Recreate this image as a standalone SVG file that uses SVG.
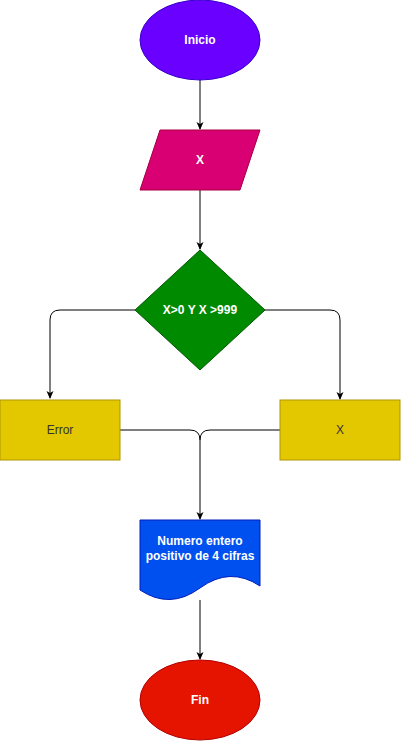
<svg xmlns="http://www.w3.org/2000/svg" width="402" height="742" viewBox="0 0 402 742">
<style>
.t{font-family:"Liberation Sans",Arial,sans-serif;font-size:12px;text-anchor:middle;dominant-baseline:central}
.w{fill:#ffffff;font-weight:bold}
.d{fill:#333333}
.c{fill:none;stroke:#000000;stroke-width:1}
</style>
<defs>
<marker id="arr" viewBox="0 0 8 8" refX="7" refY="4" markerWidth="8" markerHeight="8" markerUnits="userSpaceOnUse" orient="auto">
<path d="M0,0.5 L8,4 L0,7.5 L2,4 z" fill="#000000"/>
</marker>
</defs>
<rect width="402" height="742" fill="#ffffff"/>
<g id="connectors">
<path class="c" d="M200,80 V129" marker-end="url(#arr)"/>
<path class="c" d="M200,190 V249" marker-end="url(#arr)"/>
<path class="c" d="M135,310 H60 Q50,310 50,320 V398" marker-end="url(#arr)"/>
<path class="c" d="M265,310 H330 Q340,310 340,320 V399" marker-end="url(#arr)"/>
<path class="c" d="M120,430 H190 Q200,430 200,440 V519" marker-end="url(#arr)"/>
<path class="c" d="M280,430 H210 Q200,430 200,440"/>
<path class="c" d="M200,600 V659" marker-end="url(#arr)"/>
</g>
<g id="inicio">
<ellipse cx="200" cy="40" rx="60" ry="40" fill="#6a00ff" stroke="#3700cc"/>
<text class="t w" x="200" y="40">Inicio</text>
</g>
<g id="entrada">
<polygon points="160,130 260,130 240,190 140,190" fill="#d80073" stroke="#a50040"/>
<text class="t w" x="200" y="160">X</text>
</g>
<g id="decision">
<polygon points="200,250 265,310 200,370 135,310" fill="#008a00" stroke="#005700"/>
<text class="t w" x="200" y="310">X&gt;0 Y X &gt;999</text>
</g>
<g id="error">
<rect x="0" y="400" width="120" height="60" fill="#e3c800" stroke="#b09500"/>
<text class="t d" x="60" y="430">Error</text>
</g>
<g id="salida">
<rect x="280" y="400" width="120" height="60" fill="#e3c800" stroke="#b09500"/>
<text class="t d" x="340" y="430">X</text>
</g>
<g id="documento">
<path d="M140,520 H260 V586 Q230,566 200,588 Q170,610 140,590 Z" fill="#0050ef" stroke="#001dbc"/>
<text class="t w" x="200" y="541">Numero entero</text>
<text class="t w" x="200" y="556">positivo de 4 cifras</text>
</g>
<g id="fin">
<ellipse cx="200" cy="700" rx="60" ry="40" fill="#e51400" stroke="#b20000"/>
<text class="t w" x="200" y="700">Fin</text>
</g>
</svg>
